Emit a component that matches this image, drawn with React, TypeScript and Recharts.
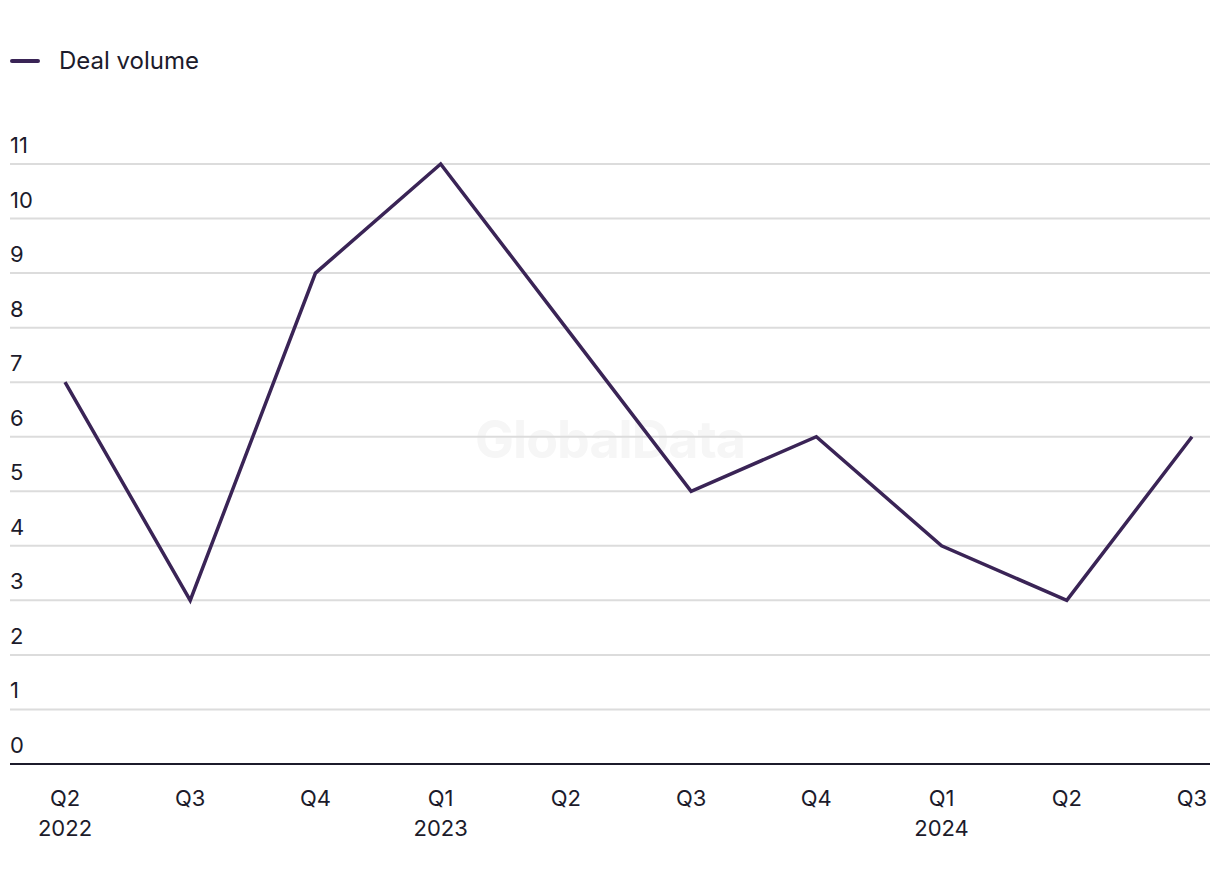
import React from 'react';
import { LineChart, Line, XAxis, YAxis, CartesianGrid } from 'recharts';

const quarters = ['Q2', 'Q3', 'Q4', 'Q1', 'Q2', 'Q3', 'Q4', 'Q1', 'Q2', 'Q3'];
const years = ['2022', '', '', '2023', '', '', '', '2024', '', ''];
const dealVolume = [7, 3, 9, 11, 8, 5, 6, 4, 3, 6];
const yTicks = [0, 1, 2, 3, 4, 5, 6, 7, 8, 9, 10, 11];

const LINE_COLOR = '#3a2456';
const TEXT_COLOR = '#1c1b2b';
const FONT = 'Inter, "Noto Sans", sans-serif';

const data = quarters.map((q, i) => ({
  key: `${q}-${i}`,
  quarter: q,
  year: years[i],
  volume: dealVolume[i],
}));

const XTick = (props: any) => {
  const { x, y, index } = props;
  const d = data[index];
  return (
    <g>
      <text x={x} y={y + 34} textAnchor="middle" fill={TEXT_COLOR} fontSize={22} fontFamily={FONT}>
        {d.quarter}
      </text>
      {d.year && (
        <text x={x} y={y + 64} textAnchor="middle" fill={TEXT_COLOR} fontSize={22} fontFamily={FONT}>
          {d.year}
        </text>
      )}
    </g>
  );
};

const YTick = (props: any) => {
  const { y, payload } = props;
  return (
    <text x={10} y={y - 11} textAnchor="start" fill={TEXT_COLOR} fontSize={22} fontFamily={FONT}>
      {payload.value}
    </text>
  );
};

export default function App() {
  return (
    <div style={{ position: 'absolute', left: 0, top: 0, width: 1220, height: 884, background: '#fff', fontFamily: FONT }}>
      <div style={{ position: 'absolute', left: 10, top: 46, display: 'flex', alignItems: 'center' }}>
        <div style={{ width: 30, height: 4, background: LINE_COLOR, borderRadius: 2 }} />
        <span style={{ marginLeft: 19, fontSize: 24, color: TEXT_COLOR }}>Deal volume</span>
      </div>
      <div
        style={{
          position: 'absolute',
          left: 0,
          width: 1220,
          top: 408,
          textAlign: 'center',
          fontSize: 52,
          fontWeight: 700,
          color: '#f6f6f6',
          letterSpacing: -1,
        }}
      >
        GlobalData
      </div>
      <div style={{ position: 'absolute', left: 0, top: 0 }}>
        <LineChart width={1220} height={884} data={data} margin={{ top: 164, right: 10, bottom: 40, left: 9 }}>
          <CartesianGrid vertical={false} stroke="#dcdcdc" strokeWidth={2} />
          <XAxis
            dataKey="key"
            height={80}
            axisLine={{ stroke: TEXT_COLOR, strokeWidth: 2 }}
            tickLine={false}
            tick={<XTick />}
            interval={0}
            padding={{ left: 55, right: 18 }}
          />
          <YAxis
            width={1}
            domain={[0, 11]}
            ticks={yTicks}
            axisLine={false}
            tickLine={false}
            tick={<YTick />}
            interval={0}
          />
          <Line
            type="linear"
            dataKey="volume"
            stroke={LINE_COLOR}
            strokeWidth={3.5}
            dot={false}
            activeDot={false}
            isAnimationActive={false}
          />
        </LineChart>
      </div>
    </div>
  );
}
